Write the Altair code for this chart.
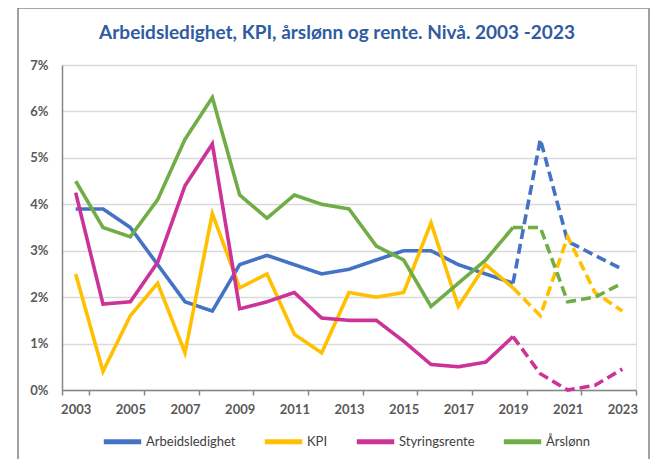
import altair as alt
import pandas as pd

years = list(range(2003, 2024))
arbeidsledighet = [3.9, 3.9, 3.5, 2.7, 1.9, 1.7, 2.7, 2.9, 2.7, 2.5, 2.6, 2.8, 3.0, 3.0, 2.7, 2.5, 2.3, 5.4, 3.2, 2.9, 2.6]
kpi = [2.5, 0.4, 1.6, 2.3, 0.8, 3.8, 2.2, 2.5, 1.2, 0.8, 2.1, 2.0, 2.1, 3.6, 1.8, 2.7, 2.2, 1.6, 3.3, 2.1, 1.7]
styringsrente = [4.25, 1.85, 1.9, 2.75, 4.4, 5.3, 1.75, 1.9, 2.1, 1.55, 1.5, 1.5, 1.05, 0.55, 0.5, 0.6, 1.15, 0.35, 0.0, 0.1, 0.45]
arslonn = [4.5, 3.5, 3.3, 4.1, 5.4, 6.3, 4.2, 3.7, 4.2, 4.0, 3.9, 3.1, 2.8, 1.8, 2.3, 2.8, 3.5, 3.5, 1.9, 2.0, 2.3]
series_names = ["Arbeidsledighet", "KPI", "Styringsrente", "Årslønn"]
series_colors = ["#4472C4", "#FFC000", "#CC3399", "#70AD47"]
forecast_start = 2019
x_label_years = list(range(2003, 2024, 2))
y_ticks = [0, 1, 2, 3, 4, 5, 6, 7]

rows = []
for name, vals in zip(series_names, [arbeidsledighet, kpi, styringsrente, arslonn]):
    for yr, v in zip(years, vals):
        if yr <= forecast_start:
            rows.append({"år": yr, "verdi": v, "serie": name, "seg": "faktisk"})
        if yr >= forecast_start:
            rows.append({"år": yr, "verdi": v, "serie": name, "seg": "prognose"})
df = pd.DataFrame(rows)

FONT = "Lato"
GRAY = "#595959"

lines = alt.Chart(df).mark_line(strokeWidth=3.6).encode(
    x=alt.X("år:O", sort=years,
            scale=alt.Scale(type="band", domain=years, paddingInner=0, paddingOuter=0),
            axis=alt.Axis(values=x_label_years, tickBand="extent", title=None, labelAngle=0,
                          labelFont=FONT, labelFontSize=13, labelFontWeight="bold", labelColor=GRAY,
                          domainColor="#868686", domainWidth=1.5, tickColor="#868686", tickWidth=1.5,
                          tickSize=5, labelPadding=8, grid=False)),
    y=alt.Y("verdi:Q", scale=alt.Scale(domain=[0, 7], nice=False),
            axis=alt.Axis(values=y_ticks, labelExpr="datum.value + '%'", title=None,
                          labelFont=FONT, labelFontSize=13, labelFontWeight="bold", labelColor=GRAY,
                          domainColor="#868686", domainWidth=1.5, ticks=False, labelPadding=14,
                          gridColor="#D9D9D9", gridWidth=1.3)),
    color=alt.Color("serie:N", sort=series_names,
                    scale=alt.Scale(domain=series_names, range=series_colors),
                    legend=alt.Legend(title=None, orient="none", direction="horizontal",
                                      legendX=39, legendY=355, symbolType="stroke",
                                      symbolStrokeWidth=5, symbolSize=1400, labelFont=FONT,
                                      labelFontSize=13, labelColor="#404040", columnPadding=18,
                                      labelOffset=2)),
    strokeDash=alt.StrokeDash("seg:N", scale=alt.Scale(domain=["faktisk", "prognose"],
                                                       range=[[1, 0], [10, 5]]), legend=None),
    detail="seg:N",
)

border = alt.Chart(pd.DataFrame({"a": [0]})).mark_rect(
    fill="white", fillOpacity=0, stroke="#8A8A8A", strokeWidth=1.6
).encode(x=alt.value(-44), x2=alt.value(587), y=alt.value(-57), y2=alt.value(420))

chart = alt.layer(border, lines).properties(
    width=574, height=325,
    title=alt.Title("Arbeidsledighet, KPI, årslønn og rente. Nivå. 2003 -2023",
                    font=FONT, fontSize=19, fontWeight="bold", color="#2F5C9F",
                    anchor="middle", dx=-12, offset=-36),
    autosize=alt.AutoSizeParams(type="none"),
    padding={"left": 54, "top": 57, "right": 14, "bottom": 69},
).configure_view(stroke=None).configure(background="white")

chart.save("out.html", embed_options={"renderer": "svg", "actions": False})
